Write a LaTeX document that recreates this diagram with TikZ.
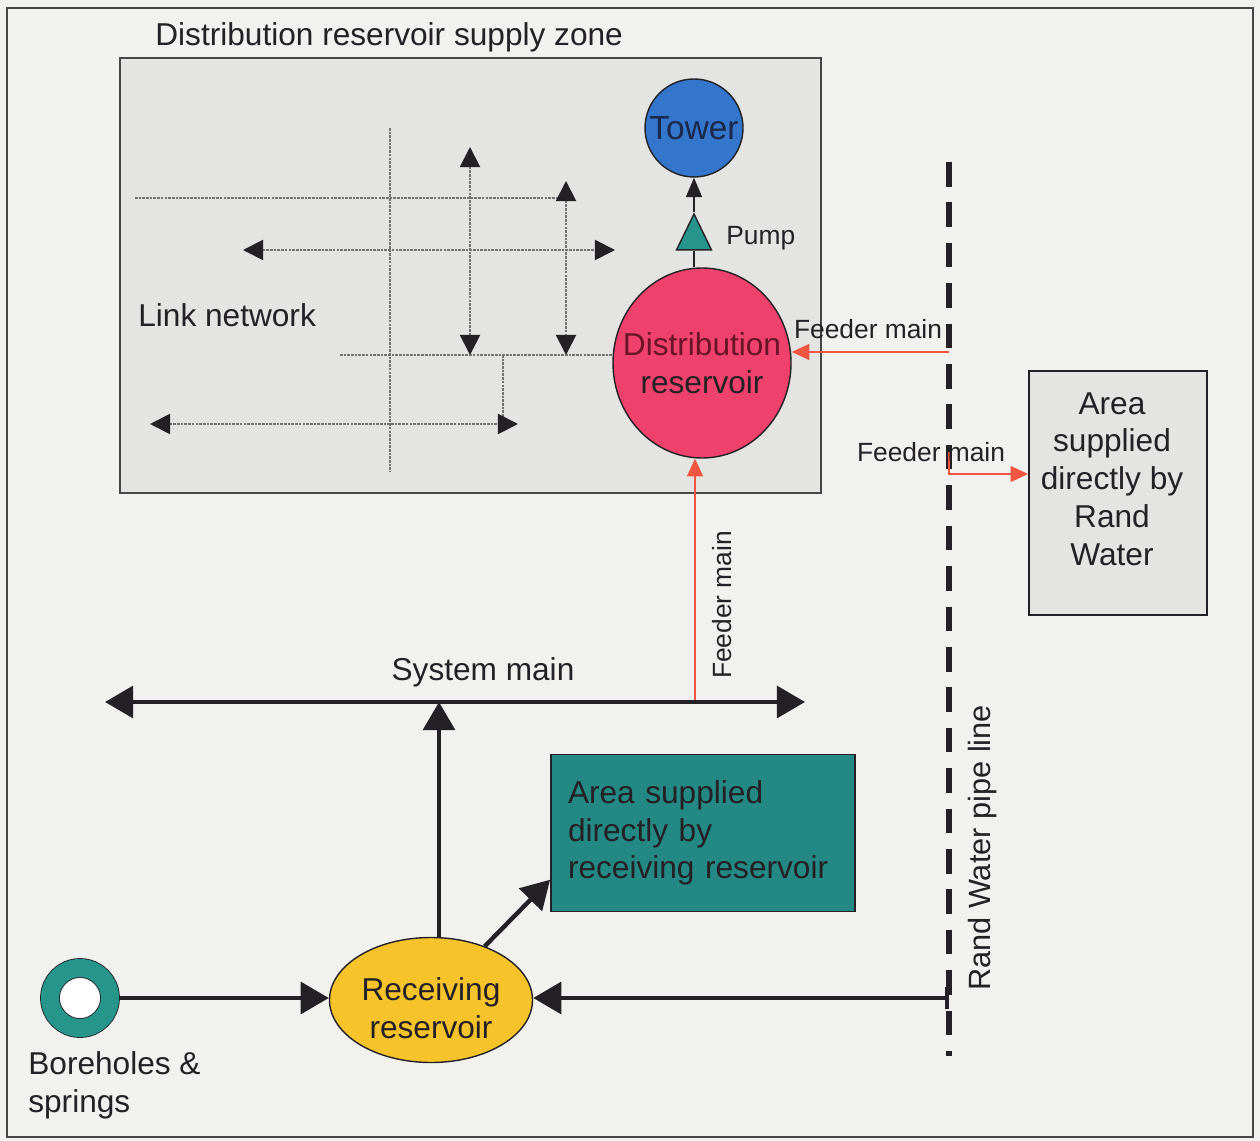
\documentclass[tikz,border=0pt]{standalone}
\usepackage{fontspec}
\setmainfont{Liberation Sans}
\usetikzlibrary{arrows.meta,shapes.geometric}
\newlength{\pxu}\setlength{\pxu}{0.02cm}
\definecolor{paper}{RGB}{241,241,239}
\definecolor{zonegray}{RGB}{228,228,227}
\definecolor{framegray}{RGB}{70,70,72}
\definecolor{ink}{RGB}{35,33,38}
\definecolor{towerblue}{RGB}{52,118,204}
\definecolor{towerink}{RGB}{25,40,75}
\definecolor{distpink}{RGB}{238,66,108}
\definecolor{distink}{RGB}{105,20,40}
\definecolor{pumpteal}{RGB}{38,150,140}
\definecolor{areateal}{RGB}{36,136,132}
\definecolor{recyellow}{RGB}{246,196,42}
\definecolor{feedred}{RGB}{240,86,66}
\definecolor{linkgray}{RGB}{115,115,115}

\begin{document}
\begin{tikzpicture}[x=\pxu, y=-\pxu, every node/.style={font=\fontsize{18}{21.5}\selectfont, text=ink, inner sep=0pt},
  small/.style={font=\fontsize{15}{18}\selectfont},
  res/.style={ellipse, draw=ink, line width=0.8pt, align=center},
  area/.style={rectangle, draw=ink, line width=1pt},
  pipe/.style={line width=2.5pt, draw=ink, >={Triangle[length=16pt,width=18pt]}, ->},
  feed/.style={line width=1.1pt, draw=feedred, >={Triangle[length=10pt,width=9pt]}, ->},
  link/.style={line width=1.1pt, draw=linkgray, dash pattern=on 1.5pt off 0.6pt},
  linkarr/.style={link, >={Triangle[length=11.5pt,width=11.5pt,color=ink]}, <->}]
	\fill[paper] (0,0) rectangle (1260,1141);
	\draw[framegray, line width=1.1pt] (7,8) rectangle (1253,1137);
	\draw[framegray, line width=1.1pt, fill=zonegray] (120,58) rectangle (821,493);
	\node[anchor=west] (zonetitle) at (155,37) {Distribution reservoir supply zone};
	\node[anchor=west] (linklbl) at (138,315) {Link network};
	\node[circle, draw=ink, line width=0.8pt, fill=towerblue, minimum size=98\pxu, text=towerink, font=\fontsize{19}{22}\selectfont] (tower) at (694,128) {\makebox[0pt]{Tower}};
	\node[isosceles triangle, isosceles triangle stretches, shape border rotate=90, draw=ink, line width=0.8pt, fill=pumpteal, minimum width=35\pxu, minimum height=36\pxu] (pump) at (694,239) {};
	\node[small, anchor=west] (pumplbl) at (726,238) {Pump};
	\node[res, fill=distpink, minimum width=178\pxu, minimum height=190\pxu] (dres) at (702,363) {\makebox[0pt]{\textcolor{distink}{Distribution}}\\\makebox[0pt]{reservoir}};
	\node[area, fill=zonegray, minimum width=178\pxu, minimum height=244\pxu] (rwarea) at (1118,493) {};
	\node[align=center] (rwtext) at (1112,479) {Area\\supplied\\directly by\\Rand\\Water};
	\node[res, fill=recyellow, minimum width=203\pxu, minimum height=125\pxu] (rres) at (431,1000) {\makebox[0pt]{\rule{0pt}{22pt}Receiving}\\\makebox[0pt]{reservoir}};
	\node[area, fill=areateal, minimum width=304\pxu, minimum height=157\pxu, text width=270\pxu, inner xsep=17\pxu, align=left] (tealarea) at (703,833) {Area supplied\\directly by\\receiving reservoir};
	\node[circle, draw=ink, line width=0.5pt, double=pumpteal, double distance=18\pxu, fill=white, minimum size=60\pxu, outer sep=10\pxu] (bore) at (80,998) {};
	\node[anchor=west, align=left] (borelbl) at (28,1085) {Boreholes \&\\springs};
	\coordinate (v0a) at (390,128); \coordinate (v0b) at (390,472);
	\coordinate (h1a) at (135,198); \coordinate (h1b) at (560,198);
	\coordinate (h2a) at (243,250); \coordinate (h2b) at (615,250);
	\coordinate (v1a) at (470,147); \coordinate (v1b) at (470,355);
	\coordinate (v2a) at (566,181); \coordinate (v2b) at (566,355);
	\coordinate (h3a) at (340,355);
	\coordinate (v3a) at (503,355); \coordinate (v3b) at (503,424);
	\coordinate (h4a) at (150,424); \coordinate (h4b) at (518,424);
	\draw[link] (v0a) -- (v0b);
	\draw[link] (h1a) -- (h1b);
	\draw[link] (h3a) -- (h3a -| dres.west);
	\draw[link] (v3a) -- (v3b);
	\draw[linkarr] (h2a) -- (h2b);
	\draw[linkarr] (v1a) -- (v1b);
	\draw[linkarr] (v2a) -- (v2b);
	\draw[linkarr] (h4a) -- (h4b);
	\draw[ink, line width=1.2pt] (pump |- dres.north) -- (pump.south);
	\draw[ink, line width=1.2pt, -{Triangle[length=11pt,width=9pt]}] (pump.apex) -- (tower.south);
	\coordinate (rwtop) at (949,162); \coordinate (rwbot) at (949,1056);
	\draw[ink, line width=3.4pt, dash pattern=on 14pt off 9pt] (rwtop) -- (rwbot);
	\node[font=\fontsize{17.5}{20}\selectfont, rotate=90] (rwlbl) at (983,848) {Rand Water pipe line};
	\coordinate (fdtop) at (949,352);
	\draw[feed] (fdtop) -- (fdtop -| dres.east);
	\node[small] (fdlbl1) at (868,329) {Feeder main};
	\coordinate (fdrw) at (949,452); \coordinate (fdbend) at (949,474);
	\draw[feed] (fdrw) -- (fdbend) -- (fdbend -| rwarea.west);
	\node[small] (fdlbl2) at (931,452) {Feeder main};
	\coordinate (smleft) at (105,702); \coordinate (smright) at (805,702);
	\coordinate (smjoin) at (439,702); \coordinate (fdlow) at (695,702);
	\draw[feed] (fdlow) -- (fdlow |- dres.south);
	\node[small, rotate=90] (fdlbl3) at (722,605) {Feeder main};
	\draw[pipe, <->] (smleft) -- (smright);
	\node (smlbl) at (483,672) {System main};
	\draw[pipe] (smjoin |- rres.north) -- (smjoin);
	\draw[pipe] (rres.45) -- (tealarea.197);
	\draw[pipe] (bore.east) -- (bore.east -| rres.west);
	\coordinate (rwfeedin) at (949,998);
	\draw[pipe, {Bar[width=12pt]}->] (rwfeedin) -- (rwfeedin -| rres.east);
\end{tikzpicture}
\end{document}
